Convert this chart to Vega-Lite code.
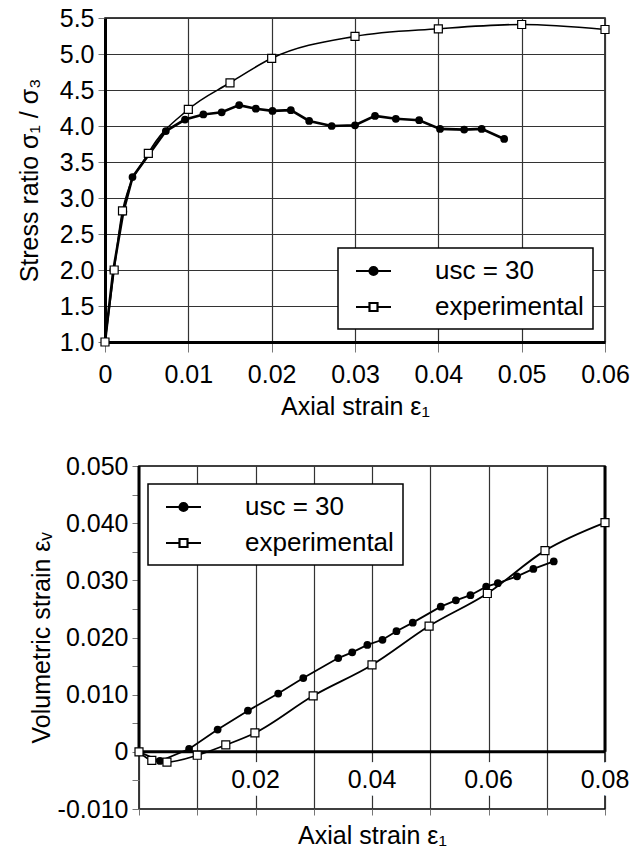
{
  "$schema": "https://vega.github.io/schema/vega-lite/v6.json",
  "padding": {"left": 12, "top": 5, "right": 2, "bottom": 2},
  "config": {
    "font": "Liberation Sans",
    "view": {"stroke": "black", "strokeWidth": 1.5},
    "axis": {
      "labelFontSize": 25, "titleFontSize": 25, "titleFontWeight": "normal",
      "labelColor": "black", "titleColor": "black",
      "gridColor": "#333", "gridWidth": 1.2, "gridOpacity": 1,
      "tickColor": "#777", "labelFlush": false, "labelOverlap": false, "labelBound": false
    },
    "legend": {
      "orient": "none", "title": null, "fillColor": "white", "strokeColor": "black", "strokeWidth": 1.5,
      "padding": 9, "labelFontSize": 26, "labelColor": "black", "labelOffset": 60, "labelLimit": 400,
      "symbolSize": 625, "symbolStrokeWidth": 2.2, "symbolStrokeColor": "black", "symbolOpacity": 1, "rowPadding": 9
    }
  },
  "datasets": {
    "stress": [
      {"strain": 0.0, "ratio": 1.0, "series": "usc = 30"},
      {"strain": 0.001, "ratio": 2.0, "series": "usc = 30"},
      {"strain": 0.0022, "ratio": 2.81, "series": "usc = 30"},
      {"strain": 0.0033, "ratio": 3.29, "series": "usc = 30"},
      {"strain": 0.0073, "ratio": 3.93, "series": "usc = 30"},
      {"strain": 0.0096, "ratio": 4.09, "series": "usc = 30"},
      {"strain": 0.0118, "ratio": 4.16, "series": "usc = 30"},
      {"strain": 0.014, "ratio": 4.19, "series": "usc = 30"},
      {"strain": 0.0161, "ratio": 4.29, "series": "usc = 30"},
      {"strain": 0.0181, "ratio": 4.24, "series": "usc = 30"},
      {"strain": 0.0201, "ratio": 4.21, "series": "usc = 30"},
      {"strain": 0.0223, "ratio": 4.22, "series": "usc = 30"},
      {"strain": 0.0245, "ratio": 4.07, "series": "usc = 30"},
      {"strain": 0.0272, "ratio": 4.0, "series": "usc = 30"},
      {"strain": 0.030, "ratio": 4.01, "series": "usc = 30"},
      {"strain": 0.0324, "ratio": 4.14, "series": "usc = 30"},
      {"strain": 0.0349, "ratio": 4.10, "series": "usc = 30"},
      {"strain": 0.0377, "ratio": 4.08, "series": "usc = 30"},
      {"strain": 0.0402, "ratio": 3.96, "series": "usc = 30"},
      {"strain": 0.0431, "ratio": 3.95, "series": "usc = 30"},
      {"strain": 0.0452, "ratio": 3.96, "series": "usc = 30"},
      {"strain": 0.0479, "ratio": 3.82, "series": "usc = 30"},
      {"strain": 0.0, "ratio": 1.0, "series": "experimental"},
      {"strain": 0.0011, "ratio": 2.0, "series": "experimental"},
      {"strain": 0.0021, "ratio": 2.82, "series": "experimental"},
      {"strain": 0.0052, "ratio": 3.62, "series": "experimental"},
      {"strain": 0.010, "ratio": 4.23, "series": "experimental"},
      {"strain": 0.015, "ratio": 4.60, "series": "experimental"},
      {"strain": 0.020, "ratio": 4.94, "series": "experimental"},
      {"strain": 0.030, "ratio": 5.245, "series": "experimental"},
      {"strain": 0.040, "ratio": 5.35, "series": "experimental"},
      {"strain": 0.050, "ratio": 5.41, "series": "experimental"},
      {"strain": 0.060, "ratio": 5.34, "series": "experimental"}
    ],
    "vol": [
      {"strain": 0.0, "ev": 0.0, "series": "usc = 30"},
      {"strain": 0.0036, "ev": -0.0016, "series": "usc = 30"},
      {"strain": 0.0086, "ev": 0.0005, "series": "usc = 30"},
      {"strain": 0.0135, "ev": 0.0039, "series": "usc = 30"},
      {"strain": 0.0187, "ev": 0.0072, "series": "usc = 30"},
      {"strain": 0.0239, "ev": 0.0102, "series": "usc = 30"},
      {"strain": 0.0282, "ev": 0.0129, "series": "usc = 30"},
      {"strain": 0.0342, "ev": 0.0164, "series": "usc = 30"},
      {"strain": 0.0366, "ev": 0.0174, "series": "usc = 30"},
      {"strain": 0.0392, "ev": 0.0187, "series": "usc = 30"},
      {"strain": 0.0418, "ev": 0.0196, "series": "usc = 30"},
      {"strain": 0.0442, "ev": 0.0211, "series": "usc = 30"},
      {"strain": 0.0470, "ev": 0.0226, "series": "usc = 30"},
      {"strain": 0.0518, "ev": 0.0254, "series": "usc = 30"},
      {"strain": 0.0544, "ev": 0.0265, "series": "usc = 30"},
      {"strain": 0.0569, "ev": 0.0274, "series": "usc = 30"},
      {"strain": 0.0596, "ev": 0.0289, "series": "usc = 30"},
      {"strain": 0.0616, "ev": 0.0295, "series": "usc = 30"},
      {"strain": 0.0649, "ev": 0.0307, "series": "usc = 30"},
      {"strain": 0.0677, "ev": 0.0320, "series": "usc = 30"},
      {"strain": 0.0712, "ev": 0.0333, "series": "usc = 30"},
      {"strain": 0.0, "ev": 0.0, "series": "experimental"},
      {"strain": 0.0022, "ev": -0.0015, "series": "experimental"},
      {"strain": 0.0048, "ev": -0.0018, "series": "experimental"},
      {"strain": 0.010, "ev": -0.0006, "series": "experimental"},
      {"strain": 0.0149, "ev": 0.0012, "series": "experimental"},
      {"strain": 0.0199, "ev": 0.0033, "series": "experimental"},
      {"strain": 0.0299, "ev": 0.0098, "series": "experimental"},
      {"strain": 0.040, "ev": 0.0152, "series": "experimental"},
      {"strain": 0.0498, "ev": 0.0220, "series": "experimental"},
      {"strain": 0.0598, "ev": 0.0277, "series": "experimental"},
      {"strain": 0.0697, "ev": 0.0352, "series": "experimental"},
      {"strain": 0.080, "ev": 0.0401, "series": "experimental"}
    ],
    "xlabels": [
      {"strain": 0.02, "label": "0.02"},
      {"strain": 0.04, "label": "0.04"},
      {"strain": 0.06, "label": "0.06"},
      {"strain": 0.08, "label": "0.08"}
    ],
    "edges": [{"strain": 0.0}, {"strain": 0.08}],
    "zero": [{"ev": 0.0}],
    "none": []
  },
  "spacing": 33,
  "resolve": {"scale": {"shape": "independent", "fill": "independent"}, "legend": {"shape": "independent", "fill": "independent"}},
  "vconcat": [
    {"hconcat": [
    {"width": 4, "height": 10, "data": {"name": "none"}, "mark": "point", "view": {"stroke": null}},
    {
      "width": 500,
      "height": 324,
      "data": {"name": "stress"},
      "layer": [
        {
          "transform": [{"filter": "datum.series === 'usc = 30'"}],
          "mark": {"type": "line", "color": "black", "strokeWidth": 2.6},
          "encoding": {
            "x": {"field": "strain", "type": "quantitative",
              "scale": {"domain": [0, 0.06], "nice": false, "zero": false},
              "axis": {"title": "Axial strain ε₁", "values": [0, 0.01, 0.02, 0.03, 0.04, 0.05, 0.06], "tickCount": 40,
                "labelExpr": "datum.value == 0 ? '0' : format(datum.value, '.2f')",
                "domainColor": "black", "domainWidth": 3, "tickSize": 10, "labelPadding": 10, "titlePadding": 7}},
            "y": {"field": "ratio", "type": "quantitative",
              "scale": {"domain": [1, 5.5], "nice": false, "zero": false},
              "axis": {"title": "Stress ratio σ₁ / σ₃", "values": [1, 1.5, 2, 2.5, 3, 3.5, 4, 4.5, 5, 5.5], "tickCount": 40,
                "format": ".1f", "domainColor": "black", "domainWidth": 3, "tickSize": 7, "labelPadding": 4, "titlePadding": 17}}
          }
        },
        {
          "transform": [{"filter": "datum.series === 'experimental'"}],
          "mark": {"type": "line", "color": "black", "strokeWidth": 1.6, "interpolate": "monotone"},
          "encoding": {
            "x": {"field": "strain", "type": "quantitative"},
            "y": {"field": "ratio", "type": "quantitative"}
          }
        },
        {
          "mark": {"type": "point", "filled": true, "stroke": "black", "strokeWidth": 2.2, "opacity": 0, "size": 10},
          "encoding": {
            "x": {"field": "strain", "type": "quantitative"},
            "y": {"field": "ratio", "type": "quantitative"},
            "shape": {"field": "series", "type": "nominal",
              "scale": {"domain": ["usc = 30", "experimental"],
                "range": ["M-0.4,0H2.4M1.32,0A0.32,0.32,0,1,1,0.68,0A0.32,0.32,0,1,1,1.32,0", "M-0.4,0H0.68M1.32,0H2.4M0.68,-0.32H1.32V0.32H0.68Z"]},
              "legend": {"legendX": 326, "legendY": 230, "encode": {"symbols": {"update": {"stroke": {"value": "black"}, "strokeWidth": {"value": 2.2}}}}}},
            "fill": {"field": "series", "type": "nominal",
              "scale": {"domain": ["usc = 30", "experimental"], "range": ["black", "white"]},
              "legend": {"legendX": 326, "legendY": 230, "encode": {"symbols": {"update": {"stroke": {"value": "black"}, "strokeWidth": {"value": 2.2}}}}}}
          }
        },
        {
          "transform": [{"filter": "datum.series === 'usc = 30'"}],
          "mark": {"type": "point", "shape": "circle", "filled": true, "color": "black", "opacity": 1, "size": 60},
          "encoding": {
            "x": {"field": "strain", "type": "quantitative"},
            "y": {"field": "ratio", "type": "quantitative"}
          }
        },
        {
          "transform": [{"filter": "datum.series === 'experimental'"}],
          "mark": {"type": "point", "shape": "square", "fill": "white", "stroke": "black", "strokeWidth": 1.2, "opacity": 1, "size": 64},
          "encoding": {
            "x": {"field": "strain", "type": "quantitative"},
            "y": {"field": "ratio", "type": "quantitative"}
          }
        }
      ]
    }], "spacing": 0},
    {"hconcat": [
    {"width": 16, "height": 10, "data": {"name": "none"}, "mark": "point", "view": {"stroke": null}},
    {
      "width": 466,
      "height": 343,
      "layer": [
        {
          "data": {"name": "xlabels"},
          "mark": {"type": "text", "fontSize": 25, "fill": "white", "stroke": "white", "strokeWidth": 16, "strokeJoin": "round", "baseline": "middle"},
          "encoding": {
            "x": {"field": "strain", "type": "quantitative",
              "scale": {"domain": [0, 0.08], "nice": false, "zero": false},
              "axis": {"title": "Axial strain ε₁", "values": [0, 0.01, 0.02, 0.03, 0.04, 0.05, 0.06, 0.07, 0.08], "tickCount": 40,
                "labels": false, "domain": false, "tickSize": 6, "titlePadding": 8}},
            "y": {"datum": -0.005, "type": "quantitative",
              "scale": {"domain": [-0.01, 0.05], "nice": false, "zero": false},
              "axis": {"title": "Volumetric strain εᵥ", "tickCount": 40,
                "values": [-0.01, -0.005, 0, 0.005, 0.01, 0.015, 0.02, 0.025, 0.03, 0.035, 0.04, 0.045, 0.05],
                "labelExpr": "abs(datum.value) < 1e-9 ? '0' : (abs(round(datum.value * 1000)) % 10 == 0 ? replace(format(datum.value, '.3f'), '−', '-') : '')",
                "domain": false, "tickSize": 7, "labelPadding": 4, "titlePadding": 3}},
            "text": {"field": "label"}
          }
        },
        {
          "data": {"name": "xlabels"},
          "mark": {"type": "text", "fontSize": 25, "fill": "black", "baseline": "middle"},
          "encoding": {
            "x": {"field": "strain", "type": "quantitative"},
            "y": {"datum": -0.005, "type": "quantitative"},
            "text": {"field": "label"}
          }
        },
        {
          "data": {"name": "edges"},
          "mark": {"type": "rule", "color": "black", "strokeWidth": 3},
          "encoding": {
            "x": {"field": "strain", "type": "quantitative"},
            "y": {"datum": 0, "type": "quantitative"},
            "y2": {"datum": 0.05}
          }
        },
        {
          "data": {"name": "zero"},
          "mark": {"type": "rule", "color": "black", "strokeWidth": 3},
          "encoding": {
            "y": {"field": "ev", "type": "quantitative"}
          }
        },
        {
          "data": {"name": "vol"},
          "transform": [{"filter": "datum.series === 'usc = 30'"}],
          "mark": {"type": "line", "color": "black", "strokeWidth": 1.8},
          "encoding": {
            "x": {"field": "strain", "type": "quantitative"},
            "y": {"field": "ev", "type": "quantitative"}
          }
        },
        {
          "data": {"name": "vol"},
          "transform": [{"filter": "datum.series === 'experimental'"}],
          "mark": {"type": "line", "color": "black", "strokeWidth": 1.8, "interpolate": "monotone"},
          "encoding": {
            "x": {"field": "strain", "type": "quantitative"},
            "y": {"field": "ev", "type": "quantitative"}
          }
        },
        {
          "data": {"name": "vol"},
          "mark": {"type": "point", "filled": true, "stroke": "black", "strokeWidth": 2.2, "opacity": 0, "size": 10},
          "encoding": {
            "x": {"field": "strain", "type": "quantitative"},
            "y": {"field": "ev", "type": "quantitative"},
            "shape": {"field": "series", "type": "nominal",
              "scale": {"domain": ["usc = 30", "experimental"],
                "range": ["M-0.4,0H2.4M1.32,0A0.32,0.32,0,1,1,0.68,0A0.32,0.32,0,1,1,1.32,0", "M-0.4,0H0.68M1.32,0H2.4M0.68,-0.32H1.32V0.32H0.68Z"]},
              "legend": {"legendX": 136, "legendY": 18, "encode": {"symbols": {"update": {"stroke": {"value": "black"}, "strokeWidth": {"value": 2.2}}}}}},
            "fill": {"field": "series", "type": "nominal",
              "scale": {"domain": ["usc = 30", "experimental"], "range": ["black", "white"]},
              "legend": {"legendX": 136, "legendY": 18, "encode": {"symbols": {"update": {"stroke": {"value": "black"}, "strokeWidth": {"value": 2.2}}}}}}
          }
        },
        {
          "data": {"name": "vol"},
          "transform": [{"filter": "datum.series === 'usc = 30'"}],
          "mark": {"type": "point", "shape": "circle", "filled": true, "color": "black", "opacity": 1, "size": 60},
          "encoding": {
            "x": {"field": "strain", "type": "quantitative"},
            "y": {"field": "ev", "type": "quantitative"}
          }
        },
        {
          "data": {"name": "vol"},
          "transform": [{"filter": "datum.series === 'experimental'"}],
          "mark": {"type": "point", "shape": "square", "fill": "white", "stroke": "black", "strokeWidth": 1.2, "opacity": 1, "size": 64},
          "encoding": {
            "x": {"field": "strain", "type": "quantitative"},
            "y": {"field": "ev", "type": "quantitative"}
          }
        }
      ]
    }], "spacing": 0}
  ]
}
